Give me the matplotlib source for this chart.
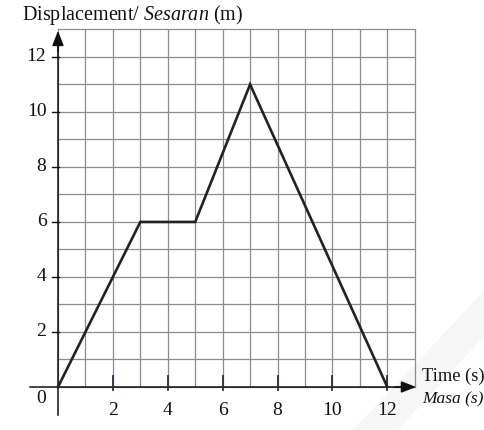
import matplotlib
matplotlib.use("Agg")
import matplotlib.pyplot as plt
from matplotlib.patches import Polygon

# data
time_s = [0, 3, 5, 7, 12]
displacement_m = [0, 6, 6, 11, 0]
x_ticks = [2, 4, 6, 8, 10, 12]
y_ticks = [2, 4, 6, 8, 10, 12]
grid_max = 13

plt.rcParams['font.family'] = ['Liberation Serif', 'DejaVu Serif']
plt.rcParams['mathtext.fontset'] = 'custom'
plt.rcParams['mathtext.rm'] = 'Liberation Serif'
plt.rcParams['mathtext.it'] = 'Liberation Serif:italic'

W, H = 485, 430
fig = plt.figure(figsize=(W / 100, H / 100), dpi=100)
ax = fig.add_axes([0, 0, 1, 1])
ax.set_xlim(-2.113, 15.56)
ax.set_ylim(-1.564, 14.07)
ax.axis('off')

# faint watermark band (behind everything)
wm = Polygon([(353 / W, 0), (398 / W, 0), (1, 1 - 335 / H), (1, 1 - 290 / H)],
             closed=True, transform=fig.transFigure, facecolor='#f6f6f6',
             edgecolor='none', zorder=0)
ax.add_patch(wm)

grid_c = '#8c8c8c'
for i in range(0, grid_max + 1):
    ax.plot([i, i], [0, grid_max], color=grid_c, lw=0.9, zorder=1)
    ax.plot([0, grid_max], [i, i], color=grid_c, lw=0.9, zorder=1)

# axes with arrows
ax.plot([0, 0], [-1.02, 12.4], color='#111111', lw=1.1, zorder=3)
ax.plot([-1.02, 12.5], [0, 0], color='#111111', lw=1.1, zorder=3)
ax.annotate('', xy=(0, 12.95), xytext=(0, 12.2),
            arrowprops=dict(arrowstyle='-|>,head_length=0.9,head_width=0.35',
                            color='#111111', lw=1.1, shrinkA=0, shrinkB=0), zorder=4)
ax.annotate('', xy=(13.05, 0), xytext=(12.3, 0),
            arrowprops=dict(arrowstyle='-|>,head_length=0.9,head_width=0.35',
                            color='#111111', lw=1.1, shrinkA=0, shrinkB=0), zorder=4)

# ticks
for t in x_ticks:
    ax.plot([t, t], [-0.12, 0.4], color='#1d3440', lw=1.3, zorder=4)
    ax.text(t, -0.55, str(t), ha='center', va='top', fontsize=14, color='#111111', zorder=6)
for t in y_ticks:
    ax.plot([-0.2, 0.05], [t, t], color='#111111', lw=1.0, zorder=4)
    ax.text(-0.42, t, str(t), ha='right', va='center', fontsize=14, color='#111111', zorder=6)
ax.text(-0.45, -0.42, '0', ha='right', va='center', fontsize=14, color='#111111', zorder=6)

# line
ax.plot(time_s, displacement_m, color='#222222', lw=1.9, zorder=5,
        solid_joinstyle='miter')

# labels
fig.text(22 / W, 1 - 15 / H, r'Displacement/ $\mathit{Sesaran}$ (m)',
         ha='left', va='center', fontsize=14.5, color='#111111')
fig.text(422 / W, 1 - 376 / H, 'Time (s)', ha='left', va='center',
         fontsize=13.2, color='#111111')
fig.text(422 / W, 1 - 399 / H, 'Masa (s)', ha='left', va='center',
         fontsize=12.5, style='italic', color='#111111')

fig.savefig('out.png', dpi=100)
